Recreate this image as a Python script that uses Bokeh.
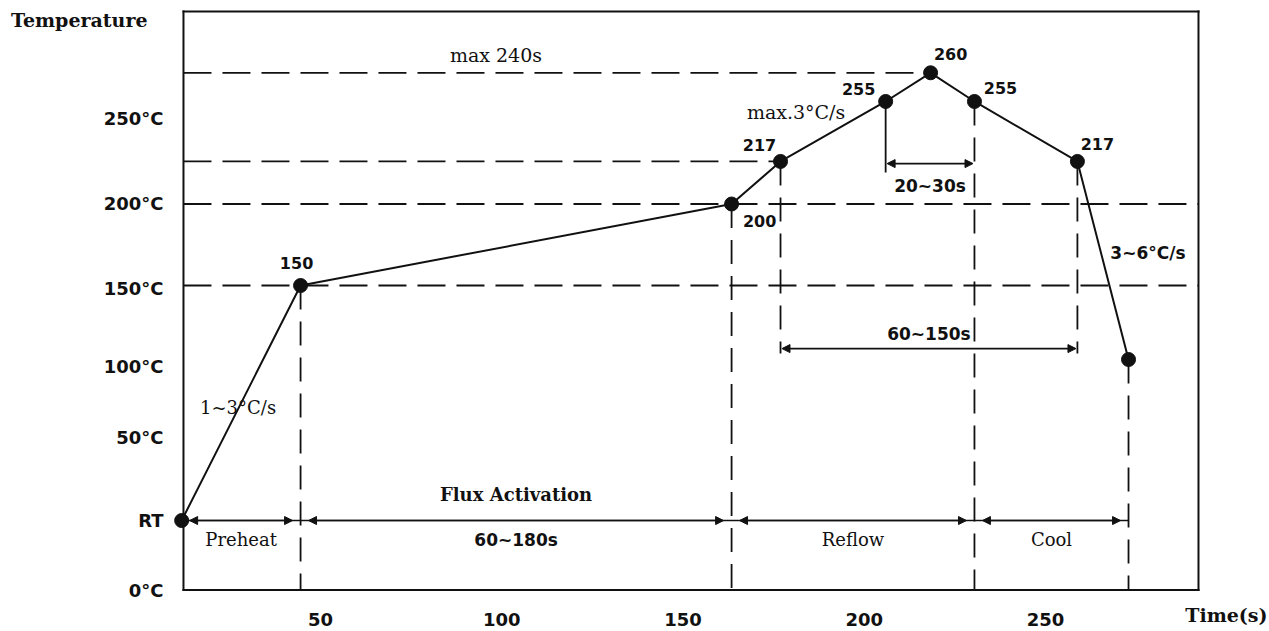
from bokeh.plotting import figure
from bokeh.models import Arrow, NormalHead, FixedTicker, Range1d, ColumnDataSource, LinearAxis
from bokeh.embed import file_html
from bokeh.resources import INLINE
from bokeh.core.properties import value

# ---------------- data (y is the chart's own drawing scale) -------
time_s = [11.7, 44.5, 163.4, 176.9, 205.9, 218.3, 230.4, 258.8, 272.9]
temp_c = [5.8, 150.0, 200.0, 226.1, 262.9, 280.5, 262.9, 226.1, 104.6]
point_text = ["", "150", "200", "217", "255", "260", "255", "217", ""]

x_ticks = [50, 100, 150, 200, 250]
y_tick_values = [-37.4, 5.8, 57.0, 100.5, 148.2, 200.5, 252.3]
y_tick_labels = ["0°C", "RT", "50°C", "100°C", "150°C", "200°C", "250°C"]

axis_titles = ["Temperature", "Time(s)"]
axis_title_at = [312.6, 299.9]   # y of "Temperature", x of "Time(s)"

phase_names = ["Preheat", "60~180s", "Reflow", "Cool"]
slope_texts = ["1~3°C/s", "max.3°C/s", "3~6°C/s"]

box_x = [12.2, 292.2]       # drawn chart box
box_y = [-36.8, 318.1]
view_x = [8.62, 311.79]     # visible ranges of the frame
view_y = [-37.73, 324.85]

tal_level = 111.3        # level of the 60~150s dimension arrow
peak_win_level = 224.8   # level of the 20~30s dimension arrow
max_label_x = 98.4

INK = "#111111"
SANS = "DejaVu Sans"
SERIF = "DejaVu Serif"

p = figure(width=1269, height=631, output_backend="svg", toolbar_location=None,
           x_range=Range1d(*view_x), y_range=Range1d(*view_y),
           min_border_left=170, min_border_right=0, min_border_top=0, min_border_bottom=40)
p.grid.visible = False
p.outline_line_color = None
p.background_fill_color = "white"
p.border_fill_color = "white"

xa = p.xaxis[0]
ya = p.yaxis[0]


def style_axis(ax, font, size, weight):
    ax.axis_line_color = None
    ax.major_tick_line_color = None
    ax.minor_tick_line_color = None
    ax.major_tick_out = 0
    ax.major_tick_in = 0
    ax.minor_tick_out = 0
    ax.minor_tick_in = 0
    ax.major_label_text_font = font
    ax.major_label_text_font_size = size
    ax.major_label_text_font_style = weight
    ax.major_label_text_color = INK


style_axis(xa, SANS, "18px", "bold")
style_axis(ya, SANS, "18px", "bold")
xa.ticker = FixedTicker(ticks=x_ticks)
xa.major_label_standoff = 21
ya.ticker = FixedTicker(ticks=y_tick_values)
ya.major_label_overrides = {v: t for v, t in zip(y_tick_values, y_tick_labels)}
ya.major_label_standoff = 7

# axis titles as single-tick extra axes
ta = LinearAxis(ticker=FixedTicker(ticks=[axis_title_at[0]]),
                major_label_overrides={axis_title_at[0]: axis_titles[0]})
style_axis(ta, SERIF, "19px", "bold")
ta.major_label_standoff = -47
p.add_layout(ta, "left")

tb = LinearAxis(ticker=FixedTicker(ticks=[axis_title_at[1]]),
                major_label_overrides={axis_title_at[1]: axis_titles[1]})
style_axis(tb, SERIF, "19px", "bold")
tb.major_label_standoff = -25
p.add_layout(tb, "below")

T, Y = time_s, temp_c
DASH_H = "28 11"
DASH_V = "24 12"

# chart box
p.segment(x0=[box_x[0], box_x[0], box_x[0], box_x[1]],
          y0=[box_y[0], box_y[1], box_y[0], box_y[0]],
          x1=[box_x[1], box_x[1], box_x[0], box_x[1]],
          y1=[box_y[0], box_y[1], box_y[1], box_y[1]],
          line_color=INK, line_width=2, line_cap="square")

# horizontal guide lines
p.segment(x0=[box_x[0], box_x[0]], y0=[Y[1], Y[2]], x1=[box_x[1], box_x[1]], y1=[Y[1], Y[2]],
          line_color=INK, line_width=1.8, line_dash=DASH_H)
p.segment(x0=[box_x[0], box_x[0]], y0=[Y[3], Y[5]], x1=[T[3], T[5]], y1=[Y[3], Y[5]],
          line_color=INK, line_width=1.8, line_dash=DASH_H)

# vertical guide lines
full = [1, 2, 6, 8]
p.segment(x0=[T[i] for i in full], y0=[Y[i] for i in full], x1=[T[i] for i in full],
          y1=[box_y[0]] * len(full), line_color=INK, line_width=1.8, line_dash=DASH_V)
tal = [3, 7]
p.segment(x0=[T[i] for i in tal], y0=[Y[i] for i in tal], x1=[T[i] for i in tal],
          y1=[tal_level - 3] * len(tal), line_color=INK, line_width=1.8, line_dash=DASH_V)
p.segment(x0=[T[4]], y0=[Y[4]], x1=[T[4]], y1=[peak_win_level - 5.5], line_color=INK, line_width=1.8)

# phase baseline with arrows
rt = Y[0]
edges = [T[0], T[1], T[2], T[6], T[8]]
p.segment(x0=[edges[0]], y0=[rt], x1=[edges[-1]], y1=[rt], line_color=INK, line_width=1.6)


def head():
    return NormalHead(size=8, fill_color=INK, line_color=INK, line_width=1)


gap = 2.2
for a, b in zip(edges[:-1], edges[1:]):
    p.add_layout(Arrow(start=head(), end=head(), x_start=a + gap, x_end=b - gap,
                       y_start=rt, y_end=rt, line_color=INK, line_width=1.6))

p.add_layout(Arrow(start=head(), end=head(), x_start=T[3] + 0.4, x_end=T[7] - 0.4,
                   y_start=tal_level, y_end=tal_level, line_color=INK, line_width=1.6))
p.add_layout(Arrow(start=head(), end=head(), x_start=T[4] + 0.4, x_end=T[6] - 0.4,
                   y_start=peak_win_level, y_end=peak_win_level, line_color=INK, line_width=1.6))

# profile
p.line(T, Y, line_color=INK, line_width=2)
p.scatter(T, Y, size=14, color=INK)

# point labels
dx = [0, -4, 28, -21, -27, 20, 26, 20, 0]
dy = [0, -23, 17, -16, -12, -19, -13, -17, 0]
idx = [i for i, s in enumerate(point_text) if s]
src = ColumnDataSource(dict(x=[T[i] for i in idx], y=[Y[i] for i in idx],
                            t=[point_text[i] for i in idx],
                            dx=[dx[i] for i in idx], dy=[dy[i] for i in idx]))
p.text(x="x", y="y", text="t", x_offset="dx", y_offset="dy", source=src,
       text_font=value(SANS), text_font_style="bold", text_font_size="16px", text_color=INK,
       text_align="center", text_baseline="middle")

# slope labels at segment midpoints
segs = [(0, 1), (3, 4), (7, 8)]
s_dx = [-3, -37, 45]
s_dy = [4, -19, -7]
s_font = [SERIF, SERIF, SANS]
s_weight = ["normal", "normal", "bold"]
s_size = ["18px", "19px", "17px"]
for (a, b), txt, ox, oy, f, w, sz in zip(segs, slope_texts, s_dx, s_dy, s_font, s_weight, s_size):
    p.text(x=[(T[a] + T[b]) / 2], y=[(Y[a] + Y[b]) / 2], text=[txt], x_offset=ox, y_offset=oy,
           text_font=value(f), text_font_style=w, text_font_size=sz, text_color=INK,
           text_align="center", text_baseline="middle")

# phase labels
mids = [(a + b) / 2 for a, b in zip(edges[:-1], edges[1:])]
for i, name in enumerate(phase_names):
    is_time = "~" in name
    p.text(x=[mids[i]], y=[rt], text=[name], y_offset=19,
           text_font=value(SANS if is_time else SERIF),
           text_font_style="bold" if is_time else "normal",
           text_font_size="17px" if is_time else "18px", text_color=INK,
           text_align="center", text_baseline="middle")
p.text(x=[mids[1]], y=[rt], text=["Flux Activation"], y_offset=-26,
       text_font=value(SERIF), text_font_style="bold", text_font_size="18px", text_color=INK,
       text_align="center", text_baseline="middle")

# dimension labels
p.text(x=[(T[4] + T[6]) / 2], y=[peak_win_level], text=["20~30s"], y_offset=22,
       text_font=value(SANS), text_font_style="bold", text_font_size="17px", text_color=INK,
       text_align="center", text_baseline="middle")
p.text(x=[(T[3] + T[7]) / 2], y=[tal_level], text=["60~150s"], y_offset=-15,
       text_font=value(SANS), text_font_style="bold", text_font_size="17px", text_color=INK,
       text_align="center", text_baseline="middle")
p.text(x=[max_label_x], y=[Y[5]], text=["max 240s"], y_offset=-18,
       text_font=value(SERIF), text_font_size="19px", text_color=INK,
       text_align="center", text_baseline="middle")

open("out.html", "w").write(file_html(p, INLINE))
